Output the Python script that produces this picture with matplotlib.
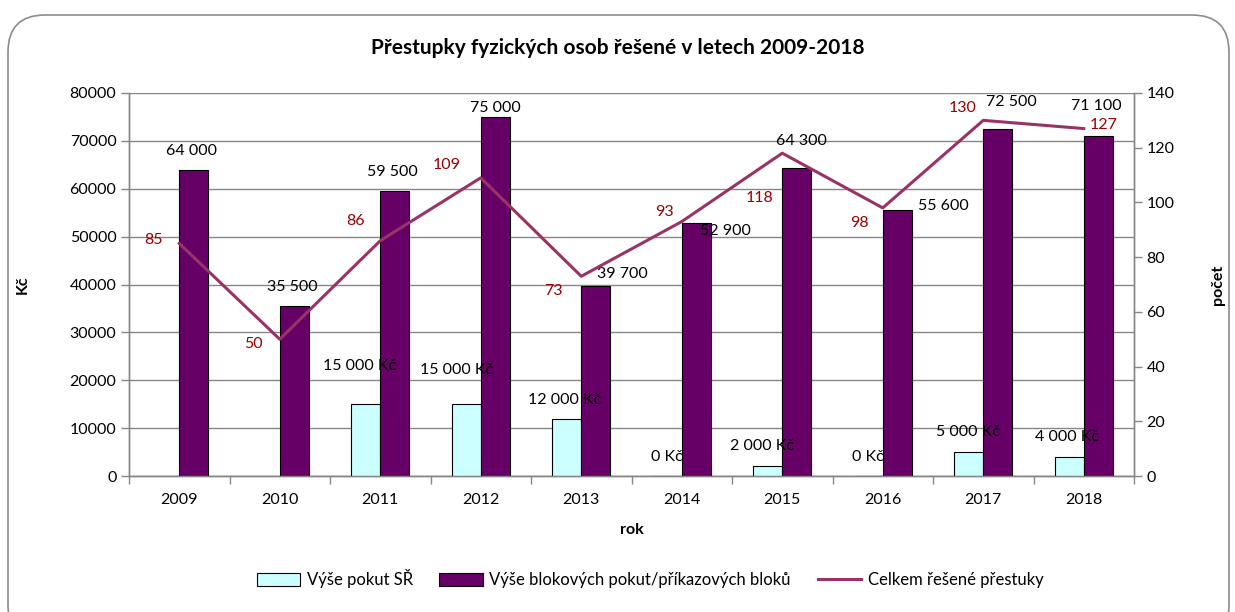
import numpy as np
import matplotlib
matplotlib.use("Agg")
import matplotlib.pyplot as plt
from matplotlib.patches import FancyBboxPatch, Patch
from matplotlib.lines import Line2D

plt.rcParams['font.family'] = ['Lato', 'DejaVu Sans']

# data
years = ['2009', '2010', '2011', '2012', '2013', '2014', '2015', '2016', '2017', '2018']
pokuty_sr = [np.nan, np.nan, 15000, 15000, 12000, 0, 2000, 0, 5000, 4000]
blokove = [64000, 35500, 59500, 75000, 39700, 52900, 64300, 55600, 72500, 71100]
celkem = [85, 50, 86, 109, 73, 93, 118, 98, 130, 127]

# label offsets in pixels (dx, dy) - to mimic the Excel placement
sr_off = [(0, 0), (0, 0), (-6, 38), (-10, 34), (-2, 19), (0, 19), (-6, 20), (0, 19), (-1, 20), (-2, 20)]
blok_off = [(-2, 19), (-2, 19), (-2, 19), (0, 9), (27, 12), (29, -8), (5, 27), (46, 4), (14, 27), (-2, 30)]
line_off = [(-26, 3), (-26, -5), (-25, 20), (-34, 13), (-28, -15), (-17, 10), (-23, -45), (-23, -15), (-21, 12), (20, 4)]

c_sr = '#CCFFFF'
c_blok = '#660066'
c_line = '#993366'
c_lab = '#990000'
c_grid = '#868686'

fig = plt.figure(figsize=(12.35, 6.12), dpi=100)
ax = fig.add_axes([129 / 1235, 1 - 476 / 612, 1005 / 1235, 383 / 612])
ax2 = ax.twinx()

# rounded border (bottom runs past the image edge like in the original)
fig.patches.append(FancyBboxPatch((8 / 1235, -30 / 612), 1221 / 1235, 627 / 612,
                                  boxstyle='round,pad=0,rounding_size=0.03',
                                  transform=fig.transFigure, fill=False,
                                  edgecolor='#8c8c8c', linewidth=1.2,
                                  mutation_aspect=1235 / 612))

x = np.arange(len(years))
w = 0.29
ax.bar(x - w / 2, pokuty_sr, w, color=c_sr, edgecolor='black', linewidth=0.8, zorder=3)
ax.bar(x + w / 2, blokove, w, color=c_blok, edgecolor='black', linewidth=0.8, zorder=3)
ax2.plot(x, celkem, color=c_line, linewidth=2.2, zorder=4)

ax.set_xlim(-0.5, len(years) - 0.5)
ax.set_ylim(0, 80000)
ax2.set_ylim(0, 140)
ax.set_yticks(np.arange(0, 80001, 10000))
ax2.set_yticks(np.arange(0, 141, 20))
ax.yaxis.grid(True, color=c_grid, linewidth=1.0, zorder=0)
ax.set_axisbelow(True)

ax.set_xticks(np.arange(-0.5, len(years), 1))
ax.set_xticklabels([])
ax.set_xticks(x, minor=True)
ax.set_xticklabels(years, minor=True)
ax.tick_params(axis='x', which='major', length=6, color=c_grid, width=1)
ax.tick_params(axis='x', which='minor', length=0, pad=12, labelsize=11.5)
ax.tick_params(axis='y', length=6, color=c_grid, width=1, labelsize=11.5, pad=3)
ax2.tick_params(axis='y', length=6, color=c_grid, width=1, labelsize=11.5, pad=3)

for a in (ax, ax2):
    for s in a.spines.values():
        s.set_color(c_grid)
        s.set_linewidth(1.0)
    a.spines['top'].set_visible(False)

ax.set_ylabel('Kč', fontsize=11.5, fontweight='bold', labelpad=29)
ax2.set_ylabel('počet', fontsize=11.5, fontweight='bold', rotation=90, labelpad=26)
ax.set_xlabel('rok', fontsize=11.5, fontweight='bold', labelpad=12)
fig.text(0.5, 1 - 48 / 612, 'Přestupky fyzických osob řešené v letech 2009-2018',
         ha='center', va='center', fontsize=15, fontweight='bold')

# data labels
for i in range(len(years)):
    v = pokuty_sr[i]
    if not np.isnan(v):
        ax.annotate(f'{int(v):,} Kč'.replace(',', ' '), (x[i] - w / 2, v),
                    xytext=sr_off[i], textcoords='offset pixels',
                    ha='center', va='center', fontsize=11.5, zorder=5)
    v = blokove[i]
    ax.annotate(f'{v:,}'.replace(',', ' '), (x[i] + w / 2, v),
                xytext=blok_off[i], textcoords='offset pixels',
                ha='center', va='center', fontsize=11.5, zorder=5)
    ax2.annotate(str(celkem[i]), (x[i], celkem[i]),
                 xytext=line_off[i], textcoords='offset pixels',
                 ha='center', va='center', fontsize=11.5, color=c_lab, zorder=5)

handles = [Patch(facecolor=c_sr, edgecolor='black', linewidth=0.8),
           Patch(facecolor=c_blok, edgecolor='black', linewidth=0.8),
           Line2D([0], [0], color=c_line, linewidth=2.2)]
labels = ['Výše pokut SŘ', 'Výše blokových pokut/příkazových bloků', 'Celkem řešené přestuky']
fig.legend(handles, labels, loc='center', bbox_to_anchor=(650 / 1235, 1 - 579 / 612),
           ncol=3, frameon=False, fontsize=12, handlelength=2.6, handleheight=0.8,
           columnspacing=1.6, handletextpad=0.4)

fig.savefig('out.png', dpi=100)
